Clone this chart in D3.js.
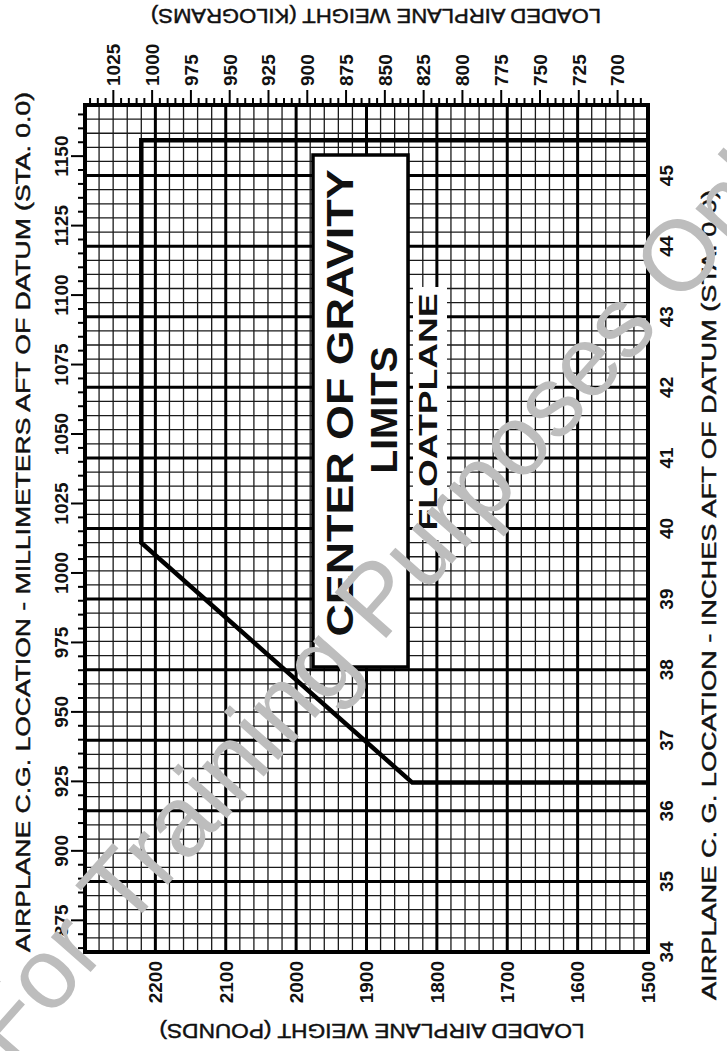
<!DOCTYPE html>
<html>
<head>
<meta charset="utf-8">
<script src="https://cdn.jsdelivr.net/npm/d3@7"></script>
<style>
  body { margin: 0; background: #fff; }
  svg { display: block; }
  text { font-family: "Liberation Sans", Arial, Helvetica, sans-serif; fill: #111; }
</style>
</head>
<body>
<svg id="chart" width="727" height="1051"></svg>
<script>
// Loaded weight scale (pounds) – labelled grid lines
const poundTicks = [2200, 2100, 2000, 1900, 1800, 1700, 1600, 1500];
// Loaded weight scale (kilograms) – labelled ticks on the top edge
const kilogramTicks = [1025, 1000, 975, 950, 925, 900, 875, 850, 825, 800, 775, 750, 725, 700];
// C.G. location (inches aft of datum) – labelled grid lines
const inchTicks = [34, 35, 36, 37, 38, 39, 40, 41, 42, 43, 44, 45];
// C.G. location (millimetres aft of datum) – labelled ticks on the left edge
const millimeterTicks = [875, 900, 925, 950, 975, 1000, 1025, 1050, 1075, 1100, 1125, 1150];

// Floatplane C.G. envelope: loaded weight (lb) and C.G. (in) at each corner
const envelopeWeight = [1500, 1835, 2220, 2220, 1500];
const envelopeCG     = [36.4, 36.4, 39.8, 45.5, 45.5];

const LB_PER_KG = 2.20462;
const MM_PER_IN = 25.4;

const svg = d3.select("#chart");

// weight runs across the page (heavy on the left), C.G. runs up the page
const x = d3.scaleLinear().domain([2300, 1500]).range([85, 648]);
const y = d3.scaleLinear().domain([34, 46]).range([952, 105]);

const [x0, x1] = x.range();
const [y0, y1] = y.range();

const grid = svg.append("g");

// minor grid: every 20 lb and every 0.2 in
const minorW = d3.range(1500, 2301, 20);
const minorC = d3.range(0, 61).map(i => 34 + i * 0.2);
grid.selectAll("line.vminor").data(minorW).join("line")
  .attr("x1", d => x(d)).attr("x2", d => x(d))
  .attr("y1", y0).attr("y2", y1)
  .attr("stroke", "#1a1a1a").attr("stroke-width", 1.3);
grid.selectAll("line.hminor").data(minorC).join("line")
  .attr("x1", x0).attr("x2", x1)
  .attr("y1", d => y(d)).attr("y2", d => y(d))
  .attr("stroke", "#1a1a1a").attr("stroke-width", 1.3);

// major grid: every 100 lb and every inch
const majorW = d3.range(1500, 2301, 100);
const majorC = d3.range(34, 47, 1);
grid.selectAll("line.vmajor").data(majorW).join("line")
  .attr("x1", d => x(d)).attr("x2", d => x(d))
  .attr("y1", y0).attr("y2", y1)
  .attr("stroke", "#000").attr("stroke-width", 3);
grid.selectAll("line.hmajor").data(majorC).join("line")
  .attr("x1", x0).attr("x2", x1)
  .attr("y1", d => y(d)).attr("y2", d => y(d))
  .attr("stroke", "#000").attr("stroke-width", 3);

// frame
svg.append("rect")
  .attr("x", x0).attr("y", y1)
  .attr("width", x1 - x0).attr("height", y0 - y1)
  .attr("fill", "none").attr("stroke", "#000").attr("stroke-width", 4);

// kilogram ticks along the top edge
const kgScale = d3.scaleLinear()
  .domain([2300 / LB_PER_KG, 1500 / LB_PER_KG])
  .range(x.range());
const kgMinor = d3.range(685, 1041, 5);
svg.append("g").selectAll("line").data(kgMinor).join("line")
  .attr("x1", d => kgScale(d)).attr("x2", d => kgScale(d))
  .attr("y1", y1).attr("y2", d => d % 25 === 0 ? y1 - 15 : y1 - 7)
  .attr("stroke", "#000").attr("stroke-width", 2);
svg.append("g").selectAll("text").data(kilogramTicks).join("text")
  .attr("transform", d => `translate(${kgScale(d)},${y1 - 19}) rotate(-90)`)
  .attr("text-anchor", "start").attr("dy", "0.36em")
  .attr("font-size", 19).attr("font-weight", "bold")
  .text(d => d);

// millimetre ticks along the left edge
const mmScale = d3.scaleLinear()
  .domain([34 * MM_PER_IN, 46 * MM_PER_IN])
  .range(y.range());
const mmMinor = d3.range(865, 1169, 5);
svg.append("g").selectAll("line").data(mmMinor).join("line")
  .attr("x1", x0).attr("x2", d => d % 25 === 0 ? x0 - 14 : x0 - 7)
  .attr("y1", d => mmScale(d)).attr("y2", d => mmScale(d))
  .attr("stroke", "#000").attr("stroke-width", 2);
svg.append("g").selectAll("text").data(millimeterTicks).join("text")
  .attr("transform", d => `translate(${x0 - 24},${mmScale(d)}) rotate(-90)`)
  .attr("text-anchor", "middle").attr("dy", "0.36em")
  .attr("font-size", 19).attr("font-weight", "bold")
  .text(d => d);

// pound labels below the frame
svg.append("g").selectAll("text").data(poundTicks).join("text")
  .attr("transform", d => `translate(${x(d)},${y0 + 9}) rotate(-90)`)
  .attr("text-anchor", "end").attr("dy", "0.36em")
  .attr("font-size", 19).attr("font-weight", "bold")
  .text(d => d);

// inch labels right of the frame
svg.append("g").selectAll("text").data(inchTicks).join("text")
  .attr("transform", d => `translate(${x1 + 18},${y(d)}) rotate(-90)`)
  .attr("text-anchor", "middle").attr("dy", "0.36em")
  .attr("font-size", 19).attr("font-weight", "bold")
  .text(d => d);

// axis titles (normal weight with a hairline outline for a medium look)
function title(transform, len, label) {
  svg.append("text")
    .attr("transform", transform)
    .attr("text-anchor", "middle").attr("dy", "0.36em")
    .attr("font-size", 20)
    .attr("stroke", "#111").attr("stroke-width", 0.45)
    .attr("textLength", len).attr("lengthAdjust", "spacingAndGlyphs")
    .text(label);
}
title("translate(376,16) rotate(180)", 450, "LOADED AIRPLANE WEIGHT (KILOGRAMS)");
title("translate(372,1031) rotate(180)", 425, "LOADED AIRPLANE WEIGHT (POUNDS)");
title("translate(23,522) rotate(-90)", 860, "AIRPLANE C.G. LOCATION - MILLIMETERS AFT OF DATUM (STA. 0.0)");
title("translate(709,595) rotate(-90)", 810, "AIRPLANE C. G. LOCATION - INCHES AFT OF DATUM (STA. 0.0)");

// C.G. envelope
const envelope = envelopeWeight.map((w, i) => [w, envelopeCG[i]]);
svg.append("path")
  .attr("d", d3.line().x(d => x(d[0])).y(d => y(d[1]))(envelope))
  .attr("fill", "none").attr("stroke", "#000")
  .attr("stroke-width", 4.5).attr("stroke-linejoin", "miter");

// title box
svg.append("rect")
  .attr("x", 313).attr("y", 155).attr("width", 95).attr("height", 512)
  .attr("fill", "#fff").attr("stroke", "#000").attr("stroke-width", 3.5);
svg.append("text")
  .attr("transform", "translate(340,403) rotate(-90)")
  .attr("text-anchor", "middle").attr("dy", "0.36em")
  .attr("font-size", 36).attr("font-weight", "bold")
  .attr("textLength", 467).attr("lengthAdjust", "spacingAndGlyphs")
  .text("CENTER OF GRAVITY");
svg.append("text")
  .attr("transform", "translate(384,410) rotate(-90)")
  .attr("text-anchor", "middle").attr("dy", "0.36em")
  .attr("font-size", 36).attr("font-weight", "bold")
  .attr("textLength", 127).attr("lengthAdjust", "spacingAndGlyphs")
  .text("LIMITS");

// floatplane label
svg.append("rect")
  .attr("x", 413).attr("y", 287).attr("width", 34).attr("height", 253)
  .attr("fill", "#fff");
svg.append("text")
  .attr("transform", "translate(428,412) rotate(-90)")
  .attr("text-anchor", "middle").attr("dy", "0.36em")
  .attr("font-size", 26).attr("font-weight", "bold")
  .attr("textLength", 237).attr("lengthAdjust", "spacingAndGlyphs")
  .text("FLOATPLANE");

// watermark
svg.append("text")
  .attr("transform", "translate(385,585) rotate(-48.5)")
  .attr("text-anchor", "middle").attr("dy", "0.36em")
  .attr("font-size", 100)
  .style("fill", "#bdbdbd")
  .text("For Training Purposes Only");
</script>
</body>
</html>
